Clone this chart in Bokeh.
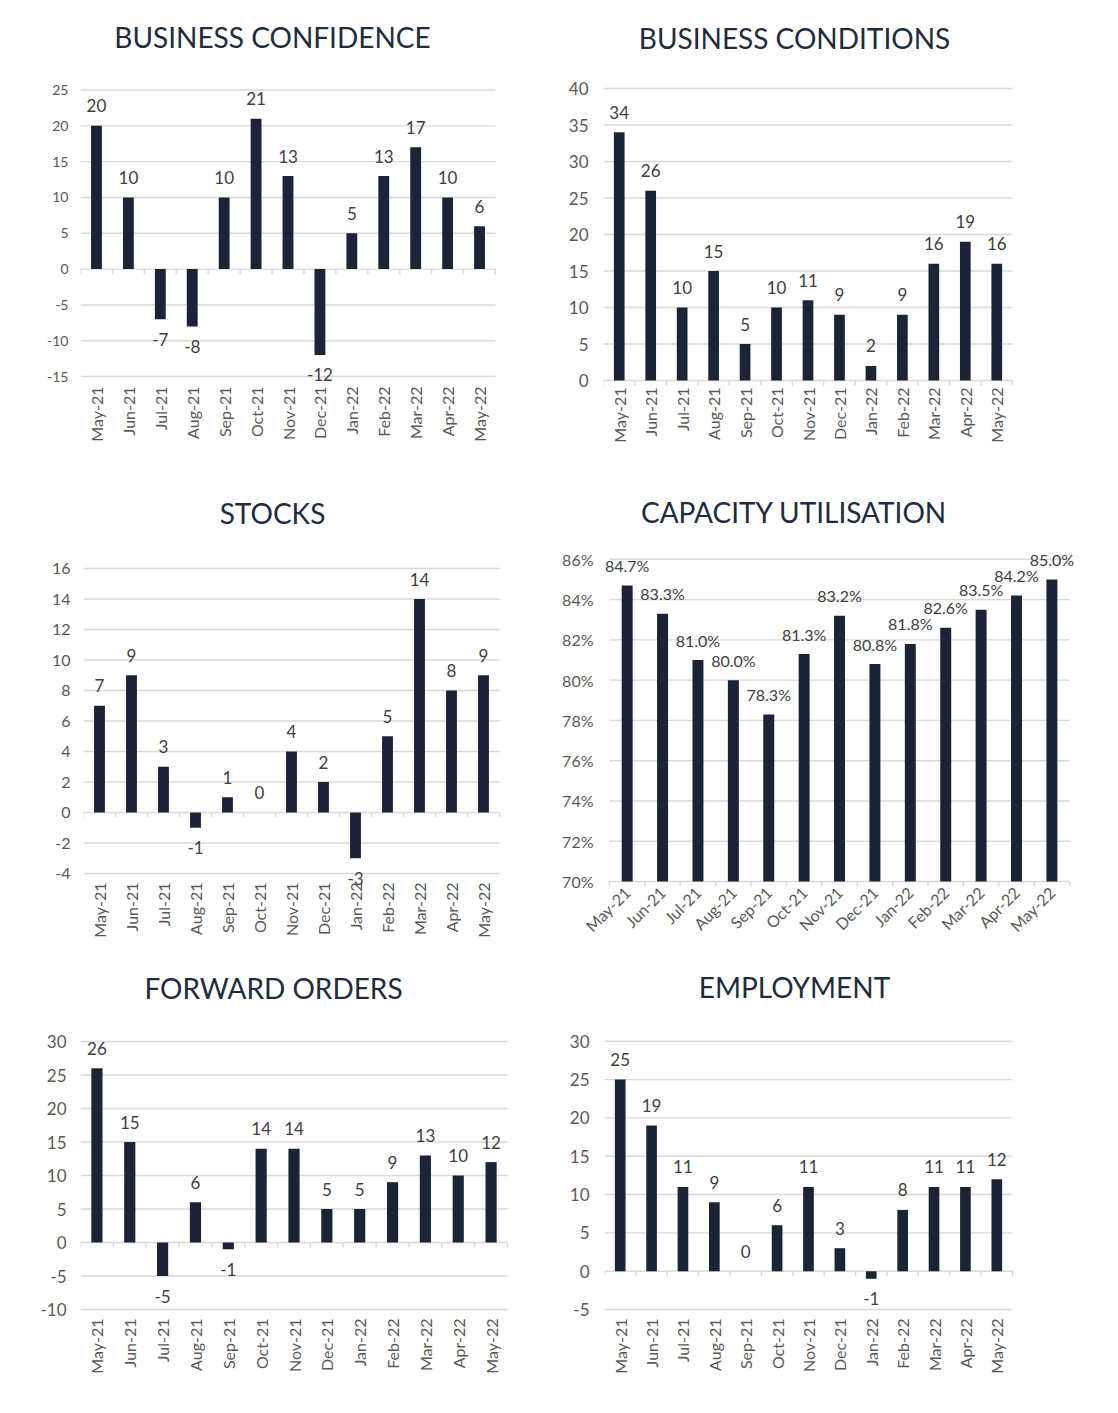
import math
from bokeh.plotting import figure
from bokeh.models import Range1d, FixedTicker, Label, LabelSet, ColumnDataSource
from bokeh.layouts import column, row
from bokeh.embed import file_html
from bokeh.resources import INLINE
from bokeh.core.properties import value

# ---------------- data ----------------
months = ["May-21", "Jun-21", "Jul-21", "Aug-21", "Sep-21", "Oct-21", "Nov-21",
          "Dec-21", "Jan-22", "Feb-22", "Mar-22", "Apr-22", "May-22"]
confidence = [20, 10, -7, -8, 10, 21, 13, -12, 5, 13, 17, 10, 6]
conditions = [34, 26, 10, 15, 5, 10, 11, 9, 2, 9, 16, 19, 16]
stocks = [7, 9, 3, -1, 1, 0, 4, 2, -3, 5, 14, 8, 9]
capacity = [84.7, 83.3, 81.0, 80.0, 78.3, 81.3, 83.2, 80.8, 81.8, 82.6, 83.5, 84.2, 85.0]
forward_orders = [26, 15, -5, 6, -1, 14, 14, 5, 5, 9, 13, 10, 12]
employment = [25, 19, 11, 9, 0, 6, 11, 3, -1, 8, 11, 11, 12]

ticks_confidence = [-15, -10, -5, 0, 5, 10, 15, 20, 25]
ticks_conditions = [0, 5, 10, 15, 20, 25, 30, 35, 40]
ticks_stocks = [-4, -2, 0, 2, 4, 6, 8, 10, 12, 14, 16]
ticks_capacity = [70, 72, 74, 76, 78, 80, 82, 84, 86]
ticks_forward = [-10, -5, 0, 5, 10, 15, 20, 25, 30]
ticks_employment = [-5, 0, 5, 10, 15, 20, 25, 30]

titles = ["BUSINESS CONFIDENCE", "BUSINESS CONDITIONS", "STOCKS",
          "CAPACITY UTILISATION", "FORWARD ORDERS", "EMPLOYMENT"]

# ---------------- style ----------------
FONT = "Lato"
BAR = "#1b2437"
GRID = "#d9d9d9"
TICK_TXT = "#595959"
VAL_TXT = "#404040"
TITLE_TXT = "#222b3e"


def panel(title, values, yticks, cell, frame, title_c, tick_fs, val_fs, cat_fs,
          ystand, xstand, angle, baseline, pct=False, bar_w=0.34,
          pad_l=0, pad_b=8):
    cx0, cy0, cx1, cy1 = cell          # page rectangle of this figure
    fl, ft, fr, fb = frame             # nominal plot area (tick span)
    ymin, ymax = yticks[0], yticks[-1]
    n = len(values)
    ppu = (fb - ft) / (ymax - ymin)
    xpu = (fr - fl) / n
    # real frame: extends to top/right of the cell so texts are not clipped
    rl, rt, rr, rb = fl - pad_l, cy0, cx1, fb + pad_b
    xr = Range1d(-0.5 - (fl - rl) / xpu, n - 0.5 + (rr - fr) / xpu)
    yr = Range1d(ymin - (rb - fb) / ppu, ymax + (ft - rt) / ppu)
    p = figure(width=cx1 - cx0, height=cy1 - cy0, x_range=xr, y_range=yr,
               output_backend="svg", toolbar_location=None, title=None,
               min_border_left=rl - cx0, min_border_right=0,
               min_border_top=0, min_border_bottom=cy1 - rb)
    p.outline_line_color = None
    p.background_fill_color = "white"
    p.border_fill_color = "white"
    p.xgrid.visible = False
    p.ygrid.visible = False

    # y axis (labels only)
    p.yaxis.ticker = FixedTicker(ticks=yticks)
    p.yaxis.axis_line_color = None
    p.yaxis.major_tick_line_color = None
    p.yaxis.minor_tick_line_color = None
    p.yaxis.major_tick_out = 0
    p.yaxis.major_label_text_font = FONT
    p.yaxis.major_label_text_font_size = f"{tick_fs}px"
    p.yaxis.major_label_text_color = TICK_TXT
    p.yaxis.major_label_standoff = ystand - pad_l
    p.yaxis.major_label_overrides = {t: (f"{t}%" if pct else f"{t}") for t in yticks}

    # x axis (labels only)
    idx = list(range(n))
    bounds = [i - 0.5 for i in range(n + 1)]
    p.xaxis.ticker = FixedTicker(ticks=idx)
    p.xaxis.major_label_overrides = {i: m for i, m in zip(idx, months)}
    p.xaxis.major_label_orientation = angle
    p.xaxis.major_label_text_font = FONT
    p.xaxis.major_label_text_font_size = f"{cat_fs}px"
    p.xaxis.major_label_text_color = TICK_TXT
    p.xaxis.major_label_standoff = xstand - pad_b
    p.xaxis.axis_line_color = None
    p.xaxis.major_tick_line_color = None
    p.xaxis.minor_tick_line_color = None
    p.xaxis.major_tick_out = 0
    p.xaxis.major_tick_in = 0

    # gridlines, baseline and category tick marks
    k = len(yticks)
    p.segment(x0=[-0.5] * k, y0=yticks, x1=[n - 0.5] * k, y1=yticks,
              line_color=GRID, line_width=1.4)
    p.segment(x0=bounds, y0=[baseline] * len(bounds), x1=bounds,
              y1=[baseline - 5.0 / ppu] * len(bounds),
              line_color=GRID, line_width=1.4)

    # bars
    src = ColumnDataSource(dict(x=idx, top=values))
    p.vbar(x="x", top="top", bottom=baseline, width=bar_w, source=src,
           fill_color=BAR, line_color=None)

    # value labels
    off = 20.0 / ppu
    ly = [v + off if v >= 0 else v - off for v in values]
    txt = [f"{v:.1f}%" if pct else f"{v:g}" for v in values]
    lsrc = ColumnDataSource(dict(x=idx, y=ly, t=txt))
    p.add_layout(LabelSet(x="x", y="y", text="t", source=lsrc,
                          text_align="center", text_baseline="middle",
                          text_font=value(FONT),
                          text_font_size=value(f"{val_fs}px"),
                          text_color=VAL_TXT))

    # title
    tcx, tcy = title_c
    tx = -0.5 + (tcx - fl) / xpu
    ty = ymax + (ft - tcy) / ppu
    p.add_layout(Label(x=tx, y=ty, text=title, text_align="center",
                       text_baseline="middle", text_font=FONT,
                       text_font_size="28px", text_color=TITLE_TXT))
    return p


CL = (0, 559)
CR = (559, 1118)
R1 = (0, 483)
R2 = (483, 958)
R3 = (958, 1413)


def cell(c, r):
    return (c[0], r[0], c[1], r[1])


p1 = panel(titles[0], confidence, ticks_confidence, cell(CL, R1),
           (80, 90, 495, 378), (272, 37), 14, 17, 16, 12, 10, math.pi / 2, 0,
           pad_b=12)
p2 = panel(titles[1], conditions, ticks_conditions, cell(CR, R1),
           (603, 88, 1012, 380), (794, 37), 17, 17, 16, 15, 7, math.pi / 2, 0)
p3 = panel(titles[2], stocks, ticks_stocks, cell(CL, R2),
           (83, 568, 499, 873), (272, 512), 16, 17, 16, 13, 9, math.pi / 2, 0,
           pad_b=16)
p4 = panel(titles[3], capacity, ticks_capacity, cell(CR, R2),
           (608, 559, 1069, 882), (793, 512), 16, 16, 16, 16, 8, math.pi / 4, 70,
           pct=True, bar_w=0.31, pad_l=10)
p5 = panel(titles[4], forward_orders, ticks_forward, cell(CL, R3),
           (80, 1041, 507, 1309), (273, 987), 17, 17, 16, 14, 9, math.pi / 2, 0)
p6 = panel(titles[5], employment, ticks_employment, cell(CR, R3),
           (604, 1041, 1012, 1310), (794, 987), 17, 17, 16, 15, 9, math.pi / 2, 0)

layout = column(row(p1, p2), row(p3, p4), row(p5, p6))
open("out.html", "w").write(file_html(layout, INLINE))
